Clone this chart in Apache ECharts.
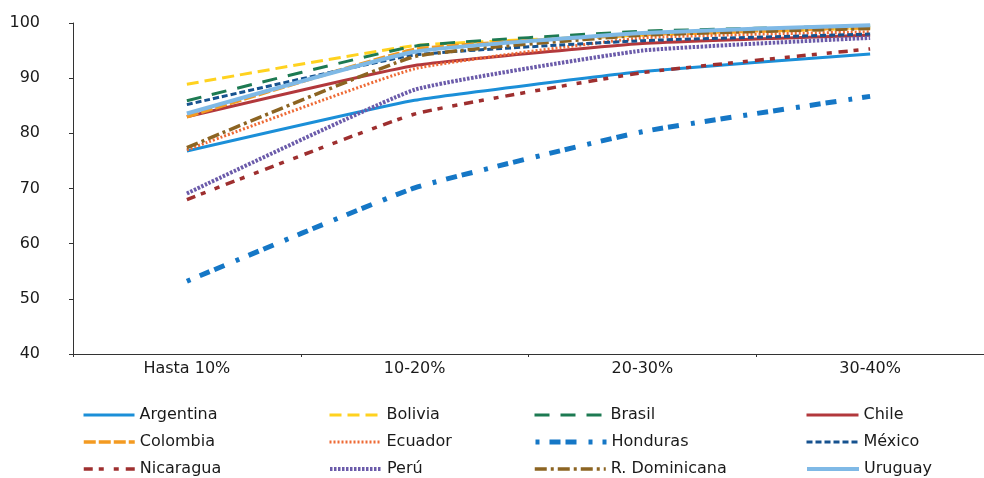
<!DOCTYPE html>
<html><head><meta charset="utf-8">
<script src="https://cdn.jsdelivr.net/npm/echarts@6/dist/echarts.min.js"></script>
<style>html,body{margin:0;padding:0;background:#fff}#c{width:984px;height:478px}</style>
</head><body><div id="c"></div>
<script>
const categories = ['Hasta 10%', '10-20%', '20-30%', '30-40%'];
const yTicks = [40, 50, 60, 70, 80, 90, 100];

const argentina = [76.8, 86.0, 91.2, 94.4];
const bolivia = [88.9, 95.9, 97.8, 99.1];
const brasil = [85.9, 95.8, 98.5, 99.5];
const chile = [83.0, 92.3, 96.3, 97.8];
const colombia = [83.0, 95.2, 97.9, 99.2];
const ecuador = [77.0, 91.7, 97.3, 98.4];
const honduras = [53.2, 70.1, 80.3, 86.7];
const mexico = [85.2, 94.2, 96.8, 98.0];
const nicaragua = [68.0, 83.5, 91.0, 95.3];
const peru = [69.1, 87.9, 95.0, 97.3];
const rdominicana = [77.4, 93.9, 97.8, 99.0];
const uruguay = [83.6, 94.8, 98.2, 99.6];

const names = ['Argentina','Bolivia','Brasil','Chile','Colombia','Ecuador','Honduras','México','Nicaragua','Perú','R. Dominicana','Uruguay'];
const values = [argentina,bolivia,brasil,chile,colombia,ecuador,honduras,mexico,nicaragua,peru,rdominicana,uruguay];
const styles = {
  'Argentina': {color:'#1B8FD8', width:3, type:'solid'},
  'Bolivia': {color:'#FFD21F', width:3, type:[12,6]},
  'Brasil': {color:'#1D7A52', width:3, type:[15,11]},
  'Chile': {color:'#B2383C', width:3, type:'solid'},
  'Colombia': {color:'#F39A21', width:3.5, type:[12,3]},
  'Ecuador': {color:'#EE6A35', width:3, type:[2,2]},
  'Honduras': {color:'#1577C6', width:5, type:[4,10,11,5,11,12]},
  'México': {color:'#16528F', width:3, type:[6,3]},
  'Nicaragua': {color:'#9E2F2F', width:3.5, type:[9,6,5,10,5,7]},
  'Perú': {color:'#6B5BAA', width:4, type:[2.5,1.5]},
  'R. Dominicana': {color:'#8C6422', width:3.5, type:[12,4,3,4]},
  'Uruguay': {color:'#7FB9E6', width:4, type:'solid'}
};

const series = names.map((n,i)=>({
  name:n, type:'line', data:values[i], symbol:'none', smooth:0.12,
  lineStyle:{color:styles[n].color, width:styles[n].width, type:styles[n].type},
  itemStyle:{color:styles[n].color}
}));

const textStyle = {fontFamily:'DejaVu Sans, sans-serif', fontSize:16, color:'#1a1a1a'};
const cols = [
  {items:['Argentina','Colombia','Nicaragua'], left:82, w:51},
  {items:['Bolivia','Ecuador','Perú'], left:328, w:52},
  {items:['Brasil','Honduras','R. Dominicana'], left:533, w:71},
  {items:['Chile','México','Uruguay'], left:805, w:52}
];
const rowTops = [407, 434, 461];
const legends = [];
cols.forEach(c=>{
  c.items.forEach((name,r)=>{
    const s = styles[name];
    legends.push({data:[name], left:c.left, top:rowTops[r], orient:'horizontal',
      itemWidth:c.w, itemHeight:16, itemGap:0, textStyle:textStyle, selectedMode:false,
      itemStyle:{opacity:0}, lineStyle:{width:s.width, type:s.type, color:s.color}, padding:0});
  });
});

const chart = echarts.init(document.getElementById('c'), null, {renderer:'canvas'});
chart.setOption({
  animation:false,
  backgroundColor:'#fff',
  grid:{left:73, top:23, bottom:124, right:-9, containLabel:false},
  legend:legends,
  xAxis:{type:'category', data:categories, boundaryGap:true,
    axisLine:{lineStyle:{color:'#333', width:1}},
    axisTick:{show:true, length:3, lineStyle:{color:'#333'}},
    axisLabel:{...textStyle, margin:7}},
  yAxis:{type:'value', min:yTicks[0], max:yTicks[yTicks.length-1], interval:10,
    axisLine:{show:true, lineStyle:{color:'#333', width:1}},
    axisTick:{show:true, length:4, lineStyle:{color:'#333'}},
    splitLine:{show:false},
    axisLabel:{...textStyle, margin:33}},
  series:series
});
</script></body></html>
